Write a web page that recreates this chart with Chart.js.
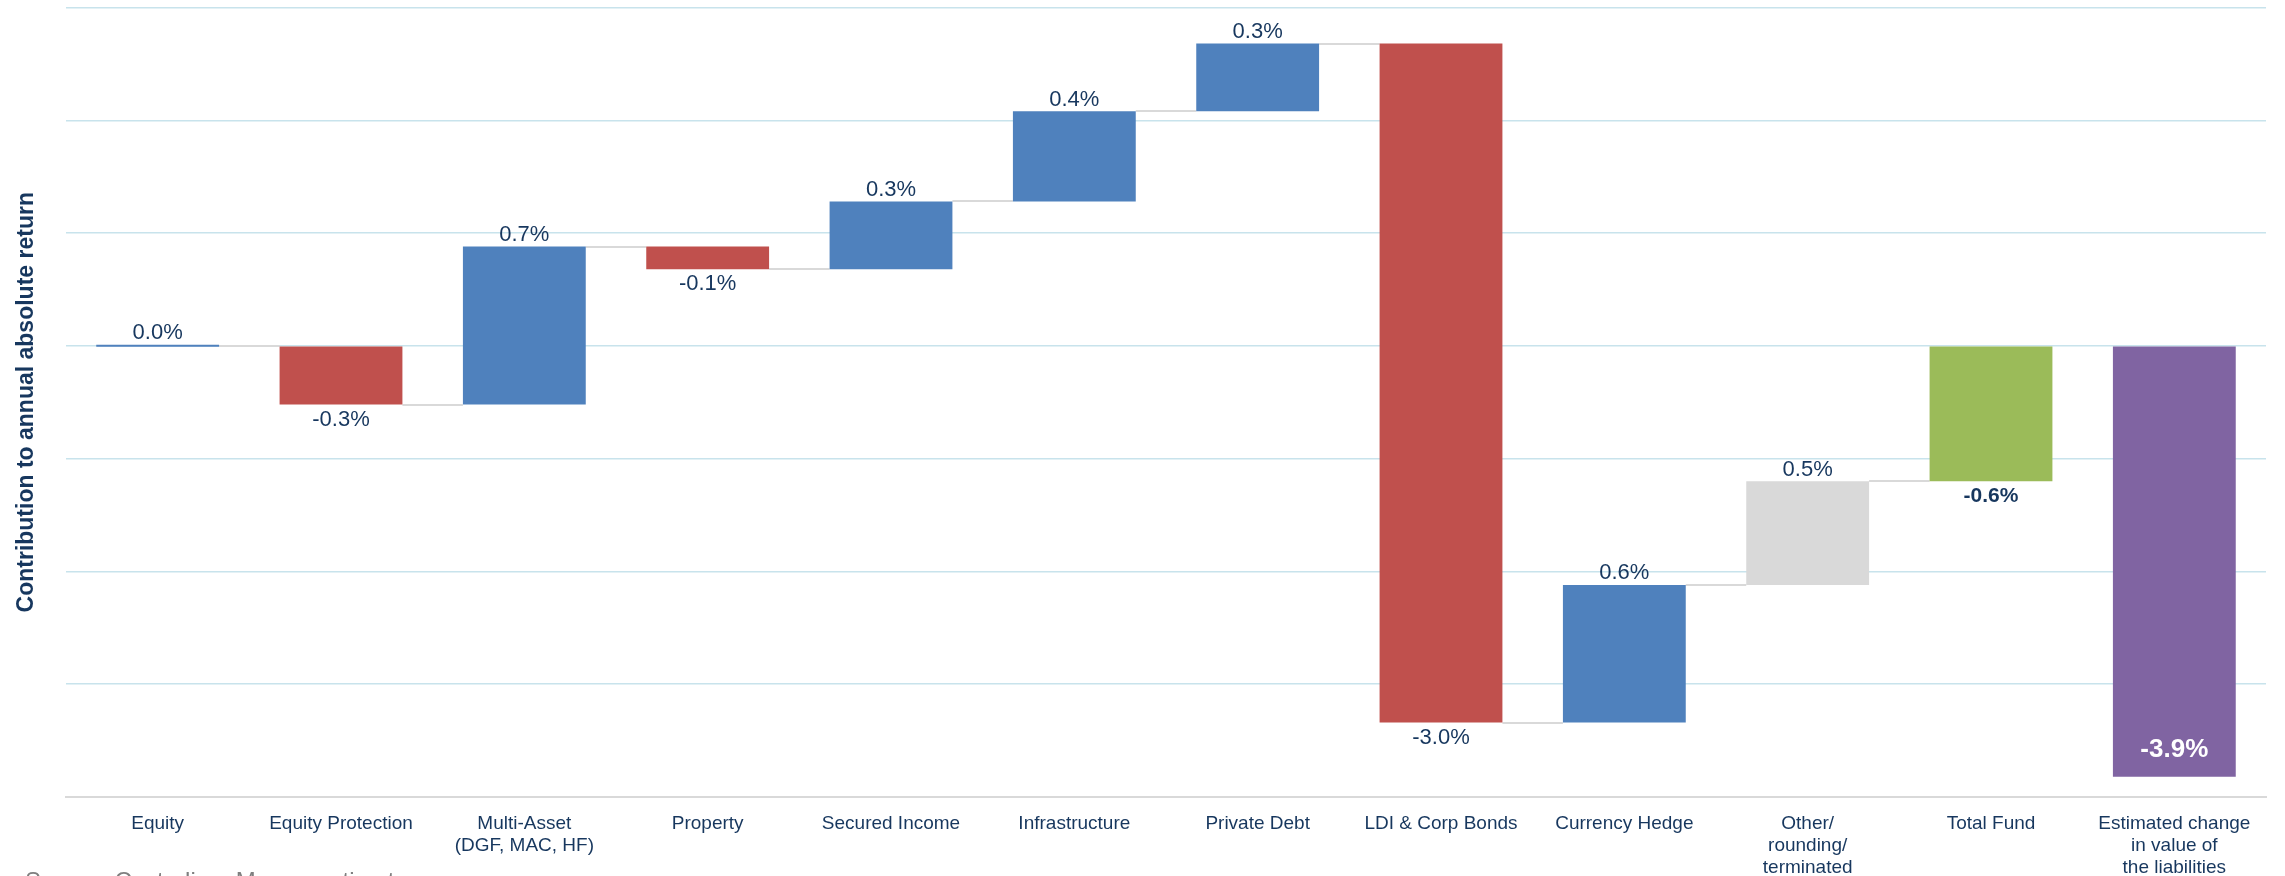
<!DOCTYPE html>
<html><head><meta charset="utf-8">
<script src="https://cdn.jsdelivr.net/npm/chart.js@4.4.1/dist/chart.umd.min.js"></script>
<style>html,body{margin:0;padding:0;background:#fff;}#wrap{width:2285px;height:876px;position:relative;}</style>
</head><body><div id="wrap"><canvas id="c"></canvas></div>
<script>
// ---- data ----
const categories = ['Equity', 'Equity Protection', ['Multi-Asset', '(DGF, MAC, HF)'], 'Property', 'Secured Income',
  'Infrastructure', 'Private Debt', 'LDI & Corp Bonds', 'Currency Hedge', ['Other/', 'rounding/', 'terminated'],
  'Total Fund', ['Estimated change', 'in value of', 'the liabilities']];
const changes = [0.0, -0.26, 0.70, -0.10, 0.30, 0.40, 0.30, -3.01, 0.61, 0.46]; // contributions (%)
const totalFund = -0.60;          // total fund bar (%)
const liabilitiesBar = -1.91;     // drawn length of liabilities bar on the axis
const valueLabels = ['0.0%', '-0.3%', '0.7%', '-0.1%', '0.3%', '0.4%', '0.3%', '-3.0%', '0.6%', '0.5%', '-0.6%', '-3.9%'];
const yMin = -2.0, yMax = 1.5, yStep = 0.5;
const source = 'Source: Custodian, Mercer estimates';

// ---- colours / styles ----
const BLUE = '#4F81BD', RED = '#C0504D', GREY = '#D9D9D9', GREEN = '#9BBB59', PURPLE = '#8064A2';
const NAVY = '#17375E';

// build waterfall ranges from the values
const ranges = [];
let cum = 0;
changes.forEach(c => { ranges.push([cum, +(cum + c).toFixed(4)]); cum += c; });
ranges.push([0, totalFund]);
ranges.push([0, liabilitiesBar]);
const colors = changes.map((c, i) => i === changes.length - 1 ? GREY : (c < 0 ? RED : BLUE));
colors.push(GREEN, PURPLE);

const connectorPlugin = {
  id: 'connectors',
  beforeDatasetsDraw(chart) {
    const ctx = chart.ctx, y = chart.scales.y, meta = chart.getDatasetMeta(0);
    ctx.save();
    ctx.strokeStyle = '#D9D9D9';
    ctx.lineWidth = 2;
    for (let i = 0; i < changes.length; i++) {
      const a = meta.data[i], b = meta.data[i + 1];
      const py = Math.round(y.getPixelForValue(ranges[i][1]));
      ctx.beginPath();
      ctx.moveTo(a.x + a.width / 2, py);
      ctx.lineTo(b.x - b.width / 2, py);
      ctx.stroke();
    }
    ctx.restore();
  }
};

const labelPlugin = {
  id: 'valueLabels',
  afterDatasetsDraw(chart) {
    const ctx = chart.ctx, meta = chart.getDatasetMeta(0);
    ctx.save();
    ctx.textAlign = 'center';
    ctx.textBaseline = 'alphabetic';
    meta.data.forEach((el, i) => {
      const top = Math.min(el.y, el.base), bottom = Math.max(el.y, el.base);
      const r = ranges[i];
      const change = r[1] - r[0];
      if (i === meta.data.length - 1) {
        ctx.font = 'bold 26px "Liberation Sans", Arial, sans-serif';
        ctx.fillStyle = '#FFFFFF';
        ctx.fillText(valueLabels[i], el.x, bottom - 20);
      } else if (i === meta.data.length - 2) {
        ctx.font = 'bold 21px "Liberation Sans", Arial, sans-serif';
        ctx.fillStyle = NAVY;
        ctx.fillText(valueLabels[i], el.x, bottom + 5.5 + 15.2);
      } else {
        ctx.font = '22px "Liberation Sans", Arial, sans-serif';
        ctx.fillStyle = NAVY;
        if (change >= 0) ctx.fillText(valueLabels[i], el.x, top - 5.5);
        else ctx.fillText(valueLabels[i], el.x, bottom + 5.5 + 15.8);
      }
    });
    // source note
    ctx.textAlign = 'left';
    ctx.font = '24px "Liberation Sans", Arial, sans-serif';
    ctx.fillStyle = '#7F7F7F';
    ctx.fillText(source, 25, 889);
    ctx.restore();
  }
};

new Chart(document.getElementById('c'), {
  type: 'bar',
  data: {
    labels: categories,
    datasets: [{
      data: ranges,
      backgroundColor: colors,
      borderWidth: 0,
      minBarLength: 2,
      barPercentage: 0.67,
      categoryPercentage: 1.0
    }]
  },
  options: {
    responsive: true,
    maintainAspectRatio: false,
    animation: false,
    layout: { padding: { left: 0, right: 19, top: 7.5, bottom: 0 } },
    plugins: { legend: { display: false }, tooltip: { enabled: false } },
    scales: {
      x: {
        grid: { display: false, drawTicks: false },
        border: { display: true, color: '#D9D9D9', width: 2 },
        ticks: {
          autoSkip: false, maxRotation: 0, minRotation: 0, padding: 16,
          color: NAVY,
          font: { family: '"Liberation Sans", Arial, sans-serif', size: 19, lineHeight: 1.16 }
        },
        afterFit(scale) { scale.height = 79; }
      },
      y: {
        min: yMin, max: yMax,
        ticks: { display: false, stepSize: yStep },
        grid: {
          drawTicks: false, lineWidth: 1.5,
          color: (c) => (c.tick && c.tick.value === yMin) ? 'rgba(0,0,0,0)' : '#C8E3EC'
        },
        border: { display: false },
        title: {
          display: true,
          text: 'Contribution to annual absolute return',
          color: NAVY,
          font: { family: '"Liberation Sans", Arial, sans-serif', size: 23, weight: 'bold' },
          padding: { top: 13, bottom: 0 }
        },
        afterFit(scale) { scale.width = 66; }
      }
    }
  },
  plugins: [connectorPlugin, labelPlugin]
});
</script>
</body></html>
